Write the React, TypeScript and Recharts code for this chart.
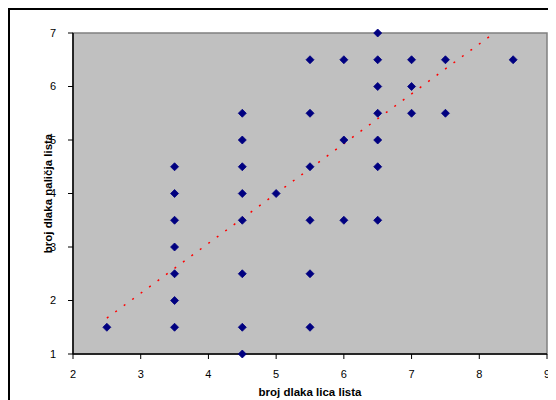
import React from 'react';
import {
    ScatterChart,
    Scatter,
    XAxis,
    YAxis,
    ReferenceArea,
    ReferenceLine,
} from 'recharts';

// broj dlaka lica lista (x) vs broj dlaka naličja lista (y)
const liceValues = [
    2.5,
    3.5, 3.5, 3.5, 3.5, 3.5, 3.5, 3.5,
    4.5, 4.5, 4.5, 4.5, 4.5, 4.5, 4.5, 4.5,
    5,
    5.5, 5.5, 5.5, 5.5, 5.5, 5.5,
    6, 6, 6,
    6.5, 6.5, 6.5, 6.5, 6.5, 6.5, 6.5,
    7, 7, 7,
    7.5, 7.5,
    8.5,
];
const nalicjeValues = [
    1.5,
    1.5, 2, 2.5, 3, 3.5, 4, 4.5,
    1, 1.5, 2.5, 3.5, 4, 4.5, 5, 5.5,
    4,
    1.5, 2.5, 3.5, 4.5, 5.5, 6.5,
    3.5, 5, 6.5,
    3.5, 4.5, 5, 5.5, 6, 6.5, 7,
    5.5, 6, 6.5,
    5.5, 6.5,
    6.5,
];

// linear trend line end points
const trendX = [2.5, 8.22];
const trendY = [1.67, 7];

const xTicks = [2, 3, 4, 5, 6, 7, 8, 9];
const yTicks = [1, 2, 3, 4, 5, 6, 7];

const points = liceValues.map((x, i) => ({ x, y: nalicjeValues[i] }));

const FONT = '"Liberation Sans", Arial, sans-serif';

const Diamond = (props: any) => {
    const { cx, cy } = props;
    const r = 4;
    return (
        <path
            d={`M${cx},${cy - r} L${cx + r},${cy} L${cx},${cy + r} L${cx - r},${cy} Z`}
            fill="#000080"
            stroke="#000080"
            strokeWidth={0.8}
        />
    );
};

const App: React.FC = () => {
    return (
        <div style={{ width: 546, height: 390, borderTop: '2px solid #000', borderLeft: '2px solid #000', background: '#fff' }}>
            <style>{'html, body { overflow: hidden; } .recharts-wrapper, .recharts-surface { overflow: visible !important; }'}</style>
            <ScatterChart
                width={546}
                height={390}
                margin={{ top: 23, right: 9, bottom: 0, left: 0 }}
                style={{ fontFamily: FONT }}
            >
                <ReferenceArea
                    x1={2}
                    x2={9}
                    y1={1}
                    y2={7}
                    fill="#c0c0c0"
                    fillOpacity={1}
                    stroke="#808080"
                    strokeWidth={1.5}
                />
                <XAxis
                    type="number"
                    dataKey="x"
                    domain={[2, 9]}
                    ticks={xTicks}
                    height={46}
                    tickSize={5}
                    tickMargin={11}
                    axisLine={{ stroke: '#000', strokeWidth: 1.5 }}
                    tickLine={{ stroke: '#000' }}
                    tick={{ fill: '#000', fontSize: 11, fontFamily: FONT }}
                    label={{
                        value: 'broj dlaka lica lista',
                        position: 'insideBottom',
                        offset: 4,
                        style: { fill: '#000', fontSize: 11.5, fontWeight: 'bold', fontFamily: FONT },
                    }}
                />
                <YAxis
                    type="number"
                    dataKey="y"
                    domain={[1, 7]}
                    ticks={yTicks}
                    width={63}
                    tickSize={5}
                    tickMargin={12}
                    axisLine={{ stroke: '#000', strokeWidth: 1.5 }}
                    tickLine={{ stroke: '#000' }}
                    tick={{ fill: '#000', fontSize: 11, fontFamily: FONT }}
                    label={{
                        value: 'broj dlaka naličja lista',
                        angle: -90,
                        position: 'insideLeft',
                        offset: 38,
                        style: { fill: '#000', fontSize: 11.5, fontWeight: 'bold', fontFamily: FONT, textAnchor: 'middle' },
                    }}
                />
                <ReferenceLine
                    segment={[
                        { x: trendX[0], y: trendY[0] },
                        { x: trendX[1], y: trendY[1] },
                    ]}
                    stroke="#ff0000"
                    strokeWidth={1.5}
                    strokeDasharray="2 8.5"
                />
                <Scatter data={points} shape={<Diamond />} isAnimationActive={false} />
            </ScatterChart>
        </div>
    );
};

export default App;
